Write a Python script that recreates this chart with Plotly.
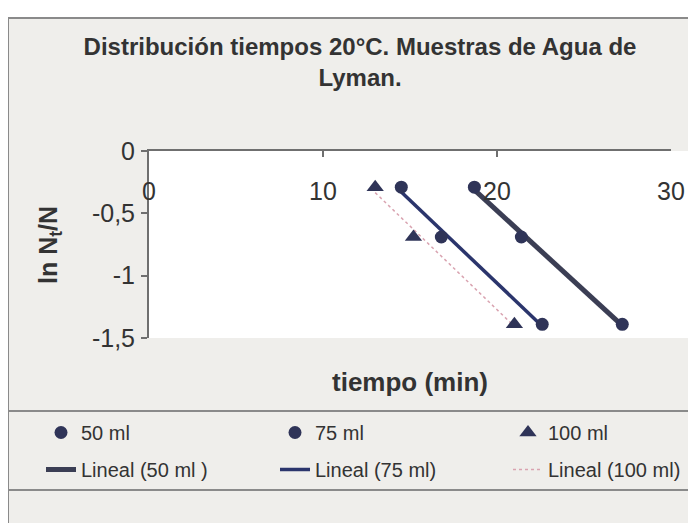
import numpy as np
import plotly.graph_objects as go

# datos (tiempo en min, ln Nt/N)
lnN = [-0.29, -0.69, -1.39]
t_50 = [18.7, 21.4, 27.2]
t_75 = [14.5, 16.8, 22.6]
t_100 = [13.0, 15.2, 21.0]

y_ticks = [0, -0.5, -1, -1.5]
y_ticktext = ['0', '-0,5', '-1', '-1,5']
x_ticks = [0, 10, 20, 30]

azul = '#2f3458'
gris = '#6f6f6f'

# coordenadas en pixeles de la pagina (el body del html tiene 8px de margen)
W, H = 696, 523
OFF = 8
L, R, T, B = 149, 671, 151, 338
def px(x):
    return (x - L) / (R - L)
def py(y):
    return (B - y) / (B - T)
def cx(x):
    return (x - OFF) / W
def cy(y):
    return 1 - (y - OFF) / H


def lineal(t, y):
    # recta de regresion (linea de tendencia de Excel)
    m, b = np.polyfit(t, y, 1)
    xs = np.array([min(t), max(t)])
    return xs, m * xs + b


fig = go.Figure()

# lineas de tendencia
xs, ys = lineal(t_50, lnN)
fig.add_trace(go.Scatter(x=xs, y=ys, mode='lines', name='Lineal (50 ml )',
                         line=dict(color='#3b3e54', width=5), legend='legend4'))
xs, ys = lineal(t_75, lnN)
fig.add_trace(go.Scatter(x=xs, y=ys, mode='lines', name='Lineal (75 ml)',
                         line=dict(color='#2b356c', width=3.5), legend='legend5'))
xs, ys = lineal(t_100, lnN)
fig.add_trace(go.Scatter(x=xs, y=ys, mode='lines', name='Lineal (100 ml)',
                         line=dict(color='#d9a3b0', width=1.5, dash='dot'), legend='legend6'))

# puntos
fig.add_trace(go.Scatter(x=t_50, y=lnN, mode='markers', name='50 ml',
                         marker=dict(symbol='circle', size=13, color=azul), legend='legend'))
fig.add_trace(go.Scatter(x=t_75, y=lnN, mode='markers', name='75 ml',
                         marker=dict(symbol='circle', size=13, color=azul), legend='legend2'))
fig.add_trace(go.Scatter(x=t_100, y=lnN, mode='markers', name='100 ml',
                         marker=dict(symbol='triangle-up', size=15, color=azul), legend='legend3'))

# traza vacia para que se dibuje el eje x2 (etiquetas bajo la linea del eje superior)
fig.add_trace(go.Scatter(x=t_50, y=[None] * 3, xaxis='x2', mode='markers',
                         showlegend=False, hoverinfo='skip'))

leyenda = dict(orientation='h', xanchor='left', yanchor='top', xref='container', yref='container',
               bgcolor='rgba(0,0,0,0)', font=dict(size=20, color='#333333'))
col_x = [41, 275, 508]
fila_y = [413, 450]

marco = dict(color='#8a8a8a', width=2)

fig.update_layout(
    width=W, height=H,
    margin=dict(l=L - OFF, r=W - (R - OFF), t=T - OFF, b=H - (B - OFF)),
    paper_bgcolor='#efeeeb', plot_bgcolor='white',
    font=dict(family='Arial, Liberation Sans, sans-serif', color='#333333'),
    title=dict(text='<b>Distribución tiempos 20°C. Muestras de Agua de<br>Lyman.</b>',
               x=cx(360), xanchor='center', y=cy(55), yanchor='top',
               font=dict(size=24, color='#333333')),
    # eje x cruza en y=0 (arriba), etiquetas por debajo de la linea
    xaxis=dict(range=[0, 30], tickvals=x_ticks, side='top', showgrid=False, zeroline=False,
               showline=True, linecolor=gris, linewidth=2, ticks='inside', ticklen=6,
               tickcolor=gris, tickwidth=2, showticklabels=False),
    xaxis2=dict(range=[0, 30], tickvals=x_ticks, overlaying='x', anchor='free',
                position=py(174), side='bottom', showgrid=False, zeroline=False,
                showline=False, ticks='', tickfont=dict(size=25, color='#333333')),
    yaxis=dict(range=[-1.5, 0], tickvals=y_ticks, ticktext=y_ticktext, showgrid=False,
               zeroline=False, showline=True, linecolor=gris, linewidth=2,
               ticks='outside', ticklen=6, tickcolor=gris, tickwidth=2, ticklabelstandoff=1,
               tickfont=dict(size=25, color='#333333')),
    showlegend=True,
    legend=dict(leyenda, x=cx(col_x[0]), y=cy(fila_y[0])),
    legend2=dict(leyenda, x=cx(col_x[1]), y=cy(fila_y[0])),
    legend3=dict(leyenda, x=cx(col_x[2]), y=cy(fila_y[0])),
    legend4=dict(leyenda, x=cx(col_x[0]), y=cy(fila_y[1])),
    legend5=dict(leyenda, x=cx(col_x[1]), y=cy(fila_y[1])),
    legend6=dict(leyenda, x=cx(col_x[2]), y=cy(fila_y[1])),
    annotations=[
        dict(text='<b>tiempo (min)</b>', x=px(410), y=py(382), xref='paper', yref='paper',
             xanchor='center', yanchor='middle', showarrow=False,
             font=dict(size=26, color='#333333')),
        dict(text='<b>ln N<sub>t</sub>/N</b>', x=px(50), y=py(245), xref='paper', yref='paper',
             xanchor='center', yanchor='middle', showarrow=False, textangle=-90,
             font=dict(size=25, color='#333333')),
    ],
    shapes=[
        # el fondo blanco del area de trazado sigue un poco a la derecha del eje
        dict(type='rect', xref='paper', yref='paper', x0=1, x1=px(688), y0=0, y1=1,
             fillcolor='white', line=dict(width=0), layer='below'),
        # franja blanca por encima del marco
        dict(type='rect', xref='paper', yref='paper', x0=px(0), x1=px(710), y0=py(0), y1=py(17),
             fillcolor='white', line=dict(width=0), layer='above'),
        dict(type='line', xref='paper', yref='paper', x0=px(8), x1=px(710), y0=py(18), y1=py(18),
             line=marco),
        dict(type='line', xref='paper', yref='paper', x0=px(8), x1=px(8), y0=py(18), y1=py(540),
             line=marco),
        dict(type='line', xref='paper', yref='paper', x0=px(8), x1=px(710), y0=py(411), y1=py(411),
             line=marco),
        dict(type='line', xref='paper', yref='paper', x0=px(8), x1=px(710), y0=py(490), y1=py(490),
             line=marco),
    ],
)

fig.write_html('out.html')
